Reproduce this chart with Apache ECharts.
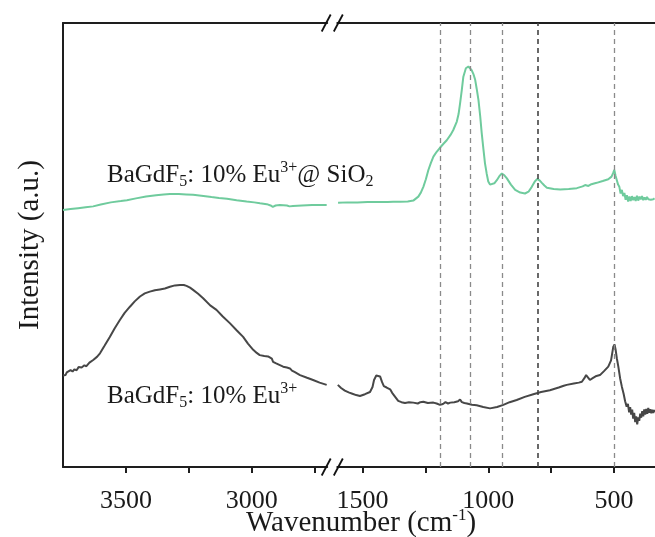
<!DOCTYPE html>
<html><head><meta charset="utf-8">
<script src="https://cdn.jsdelivr.net/npm/echarts@6/dist/echarts.min.js"></script>
<style>html,body{margin:0;padding:0;background:#fff}#c{width:655px;height:537px}</style>
</head><body><div id="c"></div>
<script>
const FONT = "'Liberation Serif','Times New Roman',serif";

// ---- data (wavenumber cm^-1, intensity a.u.) ----
const greenLeftWn  = [3750,3720,3690,3660,3630,3600,3560,3520,3496,3460,3420,3380,3350,3325,3290,3260,3233,3200,3160,3130,3098,3060,3020,2990,2967,2940,2925,2916,2905,2888,2860,2850,2836,2800,2760,2730,2702];
const greenLeftVal = [57.9,58.1,58.3,58.5,58.7,59.1,59.6,59.9,60.1,60.5,60.9,61.2,61.4,61.5,61.5,61.4,61.3,61.1,60.8,60.6,60.4,60.1,59.8,59.6,59.4,59.2,58.9,58.6,58.9,59.0,58.9,58.7,58.8,58.9,59.0,59.0,59.0];

const greenRightWn  = [1597,1560,1520,1480,1440,1400,1378,1350,1320,1298,1278,1268,1258,1248,1238,1228,1218,1205,1192,1178,1165,1150,1139,1125,1118,1112,1105,1099,1089,1079,1072,1066,1059,1052,1046,1039,1032,1026,1019,1013,1006,1000,993,986,976,966,956,946,936,926,910,893,873,854,840,827,815,805,795,787,777,767,740,714,680,648,625,615,608,602,590,569,545,523,510,503,499,494,489,484,479,474,469,464,459,454,449,444,439,434,429,424,419,414,409,404,399,394,389,384,379,374,369,364,359,354,349,344,339];
const greenRightVal = [59.5,59.6,59.6,59.7,59.7,59.7,59.75,59.75,59.8,60.0,60.9,61.8,63.1,64.8,66.9,68.5,69.9,71.0,71.9,72.8,73.6,74.8,75.9,77.8,79.5,81.9,85.0,87.9,89.8,90.2,89.9,89.4,88.5,87.2,85.2,82.7,79.0,75.2,71.5,68.4,66.0,64.3,63.6,63.5,63.9,64.6,65.5,66.1,65.7,65.0,63.6,62.4,61.8,61.6,62.0,63.1,64.3,64.9,64.5,64.0,63.4,62.9,62.6,62.5,62.6,62.8,63.2,63.5,63.4,63.3,63.7,64.0,64.4,64.8,65.4,66.3,66.9,65.6,64.6,63.6,63.1,61.6,62.4,61.0,61.7,60.2,61.2,59.8,60.9,59.9,61.0,60.1,60.8,59.9,61.1,60.0,60.9,60.3,61.0,60.1,60.7,60.2,60.8,60.3,60.7,60.2,60.6,60.3,60.5];

const darkLeftWn  = [3750,3745,3740,3735,3728,3720,3712,3705,3696,3688,3676,3665,3657,3645,3630,3615,3603,3585,3564,3545,3524,3505,3484,3465,3444,3425,3405,3385,3365,3345,3325,3305,3285,3270,3259,3245,3233,3213,3193,3165,3140,3115,3087,3060,3034,3015,2994,2980,2968,2950,2935,2928,2920,2915,2905,2890,2875,2860,2848,2840,2830,2808,2780,2756,2730,2702];
const darkLeftVal = [20.6,21.0,20.7,21.3,21.0,21.8,21.5,22.0,21.8,22.5,22.4,22.9,22.7,23.5,24.1,24.8,25.6,27.3,29.3,31.2,33.1,34.7,36.1,37.3,38.4,39.1,39.5,39.8,40.0,40.2,40.6,40.9,41.0,41.0,40.8,40.4,39.9,39.0,38.0,36.4,35.4,33.9,32.4,30.8,29.3,27.8,26.4,25.7,25.2,25.0,24.9,24.8,24.4,23.7,23.4,23.0,22.6,22.4,22.2,21.7,21.4,20.7,20.1,19.6,19.0,18.5];

const darkRightWn  = [1598,1585,1570,1555,1540,1525,1510,1490,1470,1460,1454,1445,1438,1430,1422,1415,1410,1404,1398,1390,1382,1370,1358,1345,1331,1315,1298,1280,1270,1258,1240,1218,1205,1192,1180,1170,1160,1151,1135,1120,1112,1105,1095,1085,1065,1046,1020,993,965,940,915,887,855,821,790,755,720,700,688,660,640,628,618,611,604,596,585,570,556,540,523,512,503,498,494,489,483,476,469,462,456,450,445,440,436,432,428,424,420,416,412,408,404,400,396,392,388,384,380,376,372,368,364,360,356,352,348,344,340,337];
const darkRightVal = [18.5,17.8,17.2,16.8,16.5,16.2,16.0,16.4,16.9,18.0,19.6,20.6,20.9,20.4,19.1,18.2,17.8,17.9,18.2,17.5,16.7,15.8,14.9,14.6,14.4,14.6,14.5,14.3,14.6,14.7,14.4,14.5,14.3,14.0,14.2,14.6,14.3,14.5,14.6,14.8,15.2,14.6,14.4,14.3,14.0,13.9,13.5,13.2,13.5,14.0,14.6,15.1,15.8,16.4,16.9,17.3,17.9,18.3,18.5,18.8,19.0,19.2,20.0,20.7,20.2,19.6,20.0,20.5,20.7,21.6,22.6,24.0,27.1,27.6,26.5,24.5,22.6,20.0,18.1,16.5,14.8,13.6,14.2,12.3,13.5,11.8,12.9,10.9,12.2,10.1,11.4,9.6,11.2,10.4,12.0,11.1,12.6,11.4,13.0,11.8,13.1,12.0,13.3,12.2,13.0,12.1,12.9,12.2,12.8,12.4];

const leftRange  = [2700, 3750];
const rightRange = [250, 1600];
const leftTicks  = [3500, 3250, 3000, 2750];
const leftLabels = [3500, 3000];
const rightTicks  = [1500, 1250, 1000, 750, 500];
const rightLabels = [1500, 1000, 500];
const refLines = [1190, 1072, 943, 802, 499];

// ---- layout ----
const PX_PER_UNIT = 0.2516;
const TOP = 23, BOTTOM = 70, LEFT = 63;
const leftW = (leftRange[1] - leftRange[0]) * PX_PER_UNIT;
const rightLeft = 337.3;
const rightW = (rightRange[1] - rightRange[0]) * PX_PER_UNIT;
const GREEN = '#6fcb9d', DARK = '#474747', AXIS = '#1e1e1e';

const zip = (a, b) => a.map((v, i) => [v, b[i]]);

const lineAxis = (gi, pos, range, ticks, labels) => ({
  type: 'value', gridIndex: gi, position: pos, inverse: true,
  min: range[0], max: range[1],
  axisLine: {show: true, onZero: false, lineStyle: {color: AXIS, width: 2}},
  axisTick: pos === 'bottom' ? {show: true, length: 6, inside: false, customValues: ticks, lineStyle: {color: AXIS, width: 2}} : {show: false},
  axisLabel: pos === 'bottom' ? {show: true, customValues: labels, margin: 21, formatter: v => String(v), fontFamily: FONT, fontSize: 26, color: '#1a1a1a'} : {show: false},
  splitLine: {show: false}
});

const chart = echarts.init(document.getElementById('c'), null, {renderer: 'canvas'});
const bL = LEFT + leftW, bR = rightLeft;
const slash = (cx, cy) => ({type: 'line', shape: {x1: cx - 4.5, y1: cy + 8.5, x2: cx + 4.5, y2: cy - 8.5}, style: {stroke: '#111', lineWidth: 1.8}, z: 100});
const H = 537;
const yB = H - BOTTOM;

const richStyles = {
  n:   {fontFamily: FONT, fontSize: 25, lineHeight: 30, fill: '#1a1a1a'},
  sup: {fontFamily: FONT, fontSize: 16, lineHeight: 16, verticalAlign: 'top', fill: '#1a1a1a'},
  sub: {fontFamily: FONT, fontSize: 16, lineHeight: 16, verticalAlign: 'bottom', fill: '#1a1a1a'}
};

chart.setOption({
  animation: false,
  backgroundColor: '#fff',
  grid: [
    {left: LEFT, top: TOP, bottom: BOTTOM, width: leftW, containLabel: false, outerBoundsMode: 'none'},
    {left: rightLeft, top: TOP, bottom: BOTTOM, width: rightW, containLabel: false, outerBoundsMode: 'none'}
  ],
  xAxis: [
    lineAxis(0, 'bottom', leftRange, leftTicks, leftLabels),
    lineAxis(0, 'top', leftRange),
    lineAxis(1, 'bottom', rightRange, rightTicks, rightLabels),
    lineAxis(1, 'top', rightRange)
  ],
  yAxis: [
    {type: 'value', gridIndex: 0, min: 0, max: 100,
     axisLine: {show: true, lineStyle: {color: AXIS, width: 2}}, axisTick: {show: false}, axisLabel: {show: false}, splitLine: {show: false},
     name: 'Intensity (a.u.)', nameLocation: 'middle', nameGap: 18,
     nameTextStyle: {fontFamily: FONT, fontSize: 29, color: '#1a1a1a'}},
    {type: 'value', gridIndex: 1, min: 0, max: 100, show: false}
  ],
  series: [
    {type: 'line', xAxisIndex: 0, yAxisIndex: 0, data: zip(greenLeftWn, greenLeftVal), showSymbol: false, silent: true, lineStyle: {color: GREEN, width: 2}},
    {type: 'line', xAxisIndex: 2, yAxisIndex: 1, data: zip(greenRightWn, greenRightVal), showSymbol: false, silent: true, lineStyle: {color: GREEN, width: 2},
     markLine: {silent: true, symbol: ['none', 'none'], label: {show: false},
       lineStyle: {color: '#8a8a8a', width: 1.3, type: [5, 4]},
       data: refLines.map(v => v === 802 ? {xAxis: v, lineStyle: {color: '#444', width: 1.6, type: [5, 4]}} : {xAxis: v})}},
    {type: 'line', xAxisIndex: 0, yAxisIndex: 0, data: zip(darkLeftWn, darkLeftVal), showSymbol: false, silent: true, lineStyle: {color: DARK, width: 2}},
    {type: 'line', xAxisIndex: 2, yAxisIndex: 1, data: zip(darkRightWn, darkRightVal), showSymbol: false, silent: true, lineStyle: {color: DARK, width: 2}}
  ],
  graphic: [
    slash(bL - 1, TOP), slash(bR + 1, TOP),
    slash(bL - 1, yB), slash(bR + 1, yB),
    {type: 'text', left: 107, top: 160, z: 100,
     style: {text: '{n|BaGdF}{sub|5}{n|: 10% Eu}{sup|3+}{n|@ SiO}{sub|2}', rich: richStyles}},
    {type: 'text', left: 107, top: 381, z: 100,
     style: {text: '{n|BaGdF}{sub|5}{n|: 10% Eu}{sup|3+}', rich: richStyles}},
    {type: 'text', left: 246, top: 507, z: 100,
     style: {text: '{n|Wavenumber (cm}{sup|-1}{n|)}', rich: {
       n: {fontFamily: FONT, fontSize: 29, lineHeight: 32, fill: '#1a1a1a'},
       sup: {fontFamily: FONT, fontSize: 17, lineHeight: 17, verticalAlign: 'top', fill: '#1a1a1a'}}}}
  ]
});
</script></body></html>
